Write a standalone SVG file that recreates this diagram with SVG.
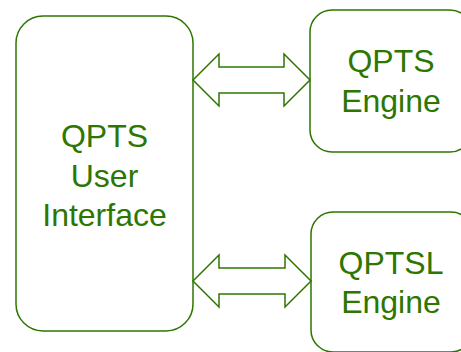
<svg xmlns="http://www.w3.org/2000/svg" width="461" height="352" viewBox="0 0 461 352">
<style>
.box{fill:#ffffff;stroke:#2D7600;stroke-width:1.5}
.arr{fill:#ffffff;stroke:#2D7600;stroke-width:1.5;stroke-linejoin:miter}
.lbl{font-family:"Liberation Sans",Arial,sans-serif;font-size:32px;fill:#2D7600;text-anchor:middle}
</style>
<rect width="461" height="352" fill="#ffffff"/>
<g id="ui">
<rect class="box" x="16" y="16" width="177" height="315" rx="27" ry="27"/>
<text class="lbl" x="104.5" y="147">QPTS</text>
<text class="lbl" x="104.5" y="186.5">User</text>
<text class="lbl" x="104.5" y="226">Interface</text>
</g>
<g id="qpts-engine">
<rect class="box" x="310" y="10" width="162" height="142" rx="22" ry="22"/>
<text class="lbl" x="391" y="72">QPTS</text>
<text class="lbl" x="391" y="112">Engine</text>
</g>
<g id="qptsl-engine">
<rect class="box" x="311" y="212" width="162" height="140" rx="22" ry="22"/>
<text class="lbl" x="391" y="274">QPTSL</text>
<text class="lbl" x="391" y="313">Engine</text>
</g>
<g id="connectors">
<polygon class="arr" points="193,80 219,54 219,67 284,67 284,54 310,80 284,106 284,93 219,93 219,106"/>
<polygon class="arr" points="193,281 219,255 219,268 285,268 285,255 311,281 285,307 285,294 219,294 219,307"/>
</g>
</svg>
